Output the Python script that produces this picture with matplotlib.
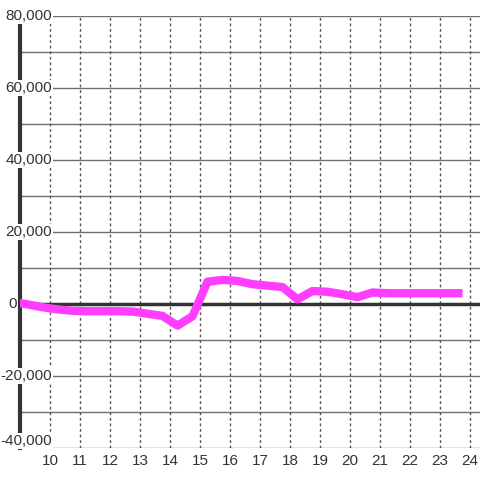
import matplotlib
matplotlib.use("Agg")
import matplotlib.pyplot as plt
import matplotlib.transforms as mtransforms

plt.rcParams['font.family'] = ['Liberation Sans', 'DejaVu Sans']

# half-hour samples
hours = [8.75, 9.25, 9.75, 10.25, 10.75, 11.25, 11.75, 12.25, 12.75, 13.25,
         13.75, 14.25, 14.75, 15.25, 15.75, 16.25, 16.75, 17.25, 17.75, 18.25,
         18.75, 19.25, 19.75, 20.25, 20.75, 21.25, 21.75, 22.25, 22.75, 23.25,
         23.75]
values = [600, -100, -900, -1500, -1900, -2000, -2000, -2000, -2100, -2700,
          -3300, -6000, -3400, 6200, 6700, 6400, 5500, 5100, 4700, 1300,
          3600, 3400, 2700, 1900, 3200, 3000, 3000, 3000, 3000, 3000,
          3000]
x_ticks = list(range(10, 25))
y_grid = list(range(-40000, 80001, 10000))
y_labels = list(range(-40000, 80001, 20000))

fig = plt.figure(figsize=(4.8, 4.8), dpi=100)
W, H = 480.0, 480.0
ax = fig.add_axes([20 / W, 1 - 448 / H, 460 / W, (448 - 16) / H])
ax.set_xlim(9.0, 24.333)
ax.set_ylim(-40000, 80000)

for s in ['top', 'right', 'bottom']:
    ax.spines[s].set_visible(False)
ax.spines['left'].set_color('#333333')
ax.spines['left'].set_linewidth(3)
ax.spines['left'].set_zorder(2)

ax.set_yticks(y_grid)
ax.set_yticklabels([])
ax.tick_params(axis='y', length=0)
ax.set_xticks(x_ticks)
ax.set_xticklabels([str(t) for t in x_ticks], fontsize=11, color='#333333')
ax.tick_params(axis='x', length=0, pad=4)

for v in y_grid:
    ax.axhline(v, color='#707070', lw=1, zorder=1)
for t in x_ticks:
    ax.axvline(t, color='#555555', lw=1, dashes=(2, 2), zorder=1)

ax.axhline(0, color='#333333', lw=2.5, zorder=3)
ax.plot(hours, values, color='#ff3dff', lw=6, solid_joinstyle='round',
        solid_capstyle='butt', zorder=4)

trans = mtransforms.blended_transform_factory(fig.transFigure, ax.transData)
for v in y_labels:
    if v == 0:
        ax.text(17 / W, v, "0", transform=trans, ha='right', va='center',
                fontsize=11, color='#333333', clip_on=False, zorder=6)
        continue
    va = 'bottom' if v == -40000 else 'center'
    ax.text(52 / W, v, f"{v:,}", transform=trans, ha='right', va=va,
            fontsize=11, color='#333333', clip_on=False, zorder=6,
            bbox=dict(boxstyle='square,pad=0.05', fc='white', ec='none'))

fig.savefig("out.png", dpi=100)
